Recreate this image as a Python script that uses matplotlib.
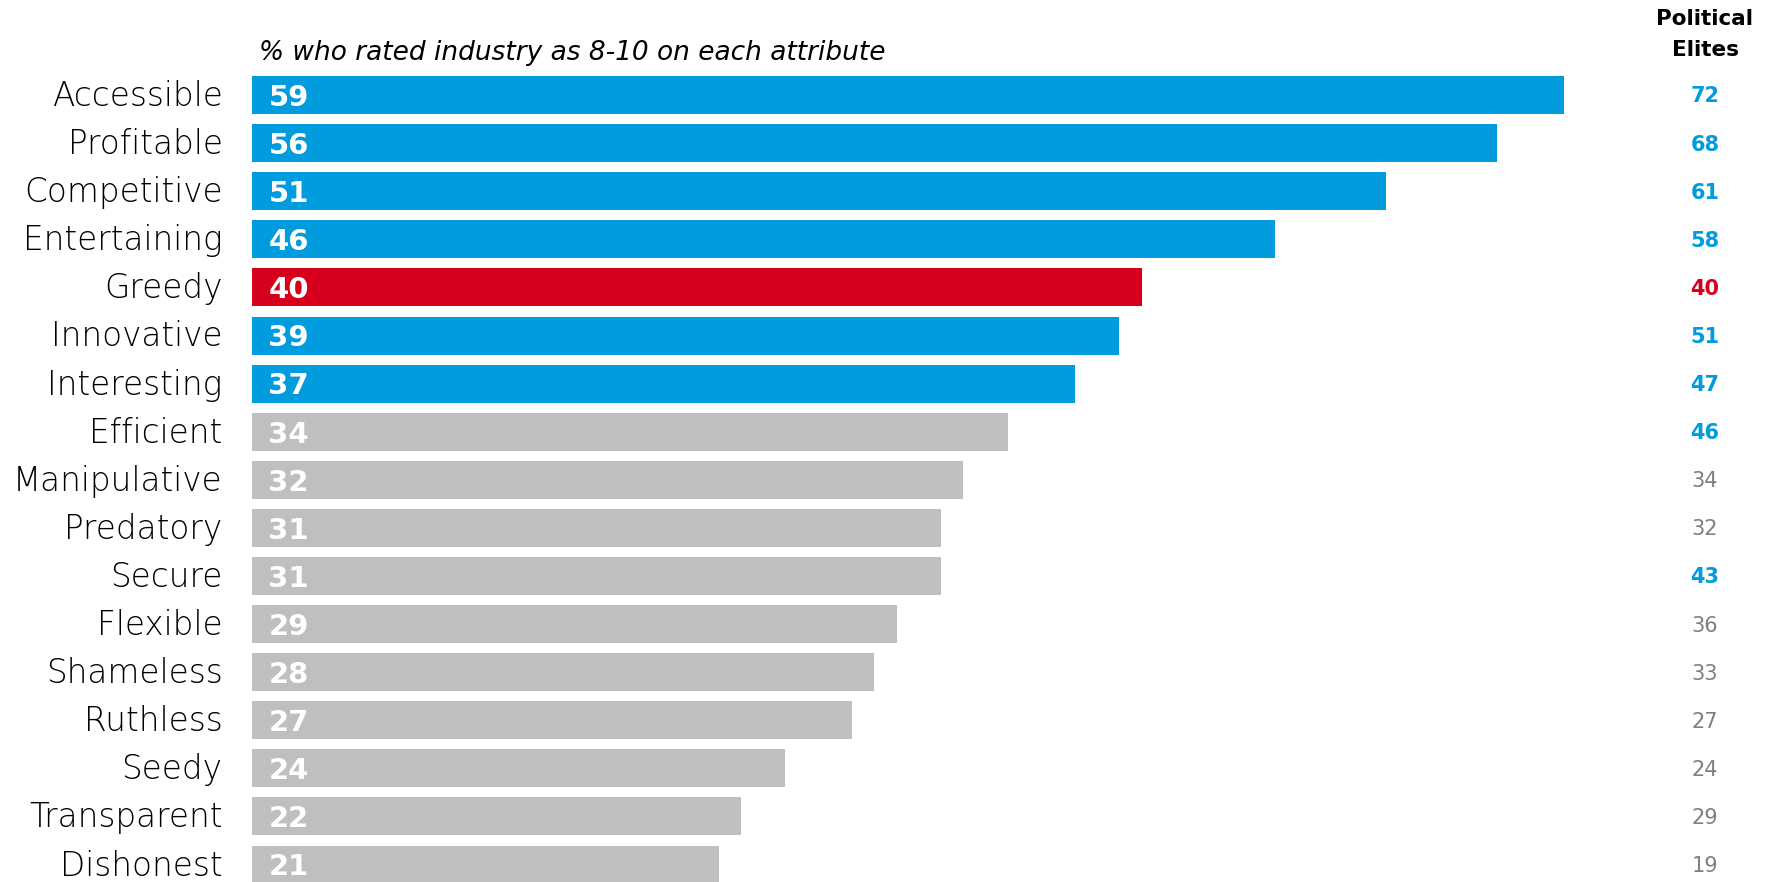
import matplotlib.pyplot as plt
from matplotlib.transforms import blended_transform_factory

attributes = ["Accessible", "Profitable", "Competitive", "Entertaining", "Greedy",
              "Innovative", "Interesting", "Efficient", "Manipulative", "Predatory",
              "Secure", "Flexible", "Shameless", "Ruthless", "Seedy", "Transparent",
              "Dishonest"]
public = [59, 56, 51, 46, 40, 39, 37, 34, 32, 31, 31, 29, 28, 27, 24, 22, 21]
elites = [72, 68, 61, 58, 40, 51, 47, 46, 34, 32, 43, 36, 33, 27, 24, 29, 19]
# "b" = positive highlight, "r" = negative highlight, "g" = not highlighted
bar_group = ["b", "b", "b", "b", "r", "b", "b", "g", "g", "g",
             "g", "g", "g", "g", "g", "g", "g"]
elite_group = ["b", "b", "b", "b", "r", "b", "b", "b", "g", "g",
               "b", "g", "g", "g", "g", "g", "g"]

BLUE = "#009CDE"
RED = "#D6001C"
GREY = "#BFBFBF"
bar_colors = {"b": BLUE, "r": RED, "g": GREY}
num_colors = {"b": BLUE, "r": RED, "g": "#7F7F7F"}

W, H = 1768, 882
fig = plt.figure(figsize=(W / 100, H / 100), dpi=100)
left_px = 251.5
px_per_unit = 22.25
ax = fig.add_axes([left_px / W, 0, 1 - left_px / W, 1])
ax.set_xlim(0, (W - left_px) / px_per_unit)
# row centres start 95px from the top, 48.1px apart
pitch = 48.1
ax.set_ylim((H - 95) / pitch, -95 / pitch)
ax.axis("off")

rows = list(range(len(attributes)))
ax.barh(rows, public, height=38 / pitch,
        color=[bar_colors[g] for g in bar_group], clip_on=False)

for i, (name, v) in enumerate(zip(attributes, public)):
    ax.text(-29 / px_per_unit, i + 0.03, name, ha="right", va="center",
            fontsize=23.5, family="DejaVu Sans", weight=200, color="black")
    ax.text(17 / px_per_unit, i + 0.06, str(v), ha="left", va="center",
            fontsize=21, weight="bold", color="white", family="DejaVu Sans")

tr = blended_transform_factory(fig.transFigure, ax.transData)
for i, (v, g) in enumerate(zip(elites, elite_group)):
    ax.text(1705 / W, i + 0.03, str(v), transform=tr, ha="center", va="center",
            fontsize=15, color=num_colors[g],
            weight="bold" if g != "g" else "normal", family="DejaVu Sans")

fig.text(1705 / W, 1 - 19 / H, "Political", ha="center", va="center",
         fontsize=15.5, weight="bold", color="black")
fig.text(1705 / W, 1 - 50 / H, "Elites", ha="center", va="center",
         fontsize=15.5, weight="bold", color="black")
fig.text(259 / W, 1 - 53 / H, "% who rated industry as 8-10 on each attribute",
         ha="left", va="center", fontsize=19, style="italic",
         family="DejaVu Sans", weight=200, color="black")

fig.savefig("out.png", dpi=100)
